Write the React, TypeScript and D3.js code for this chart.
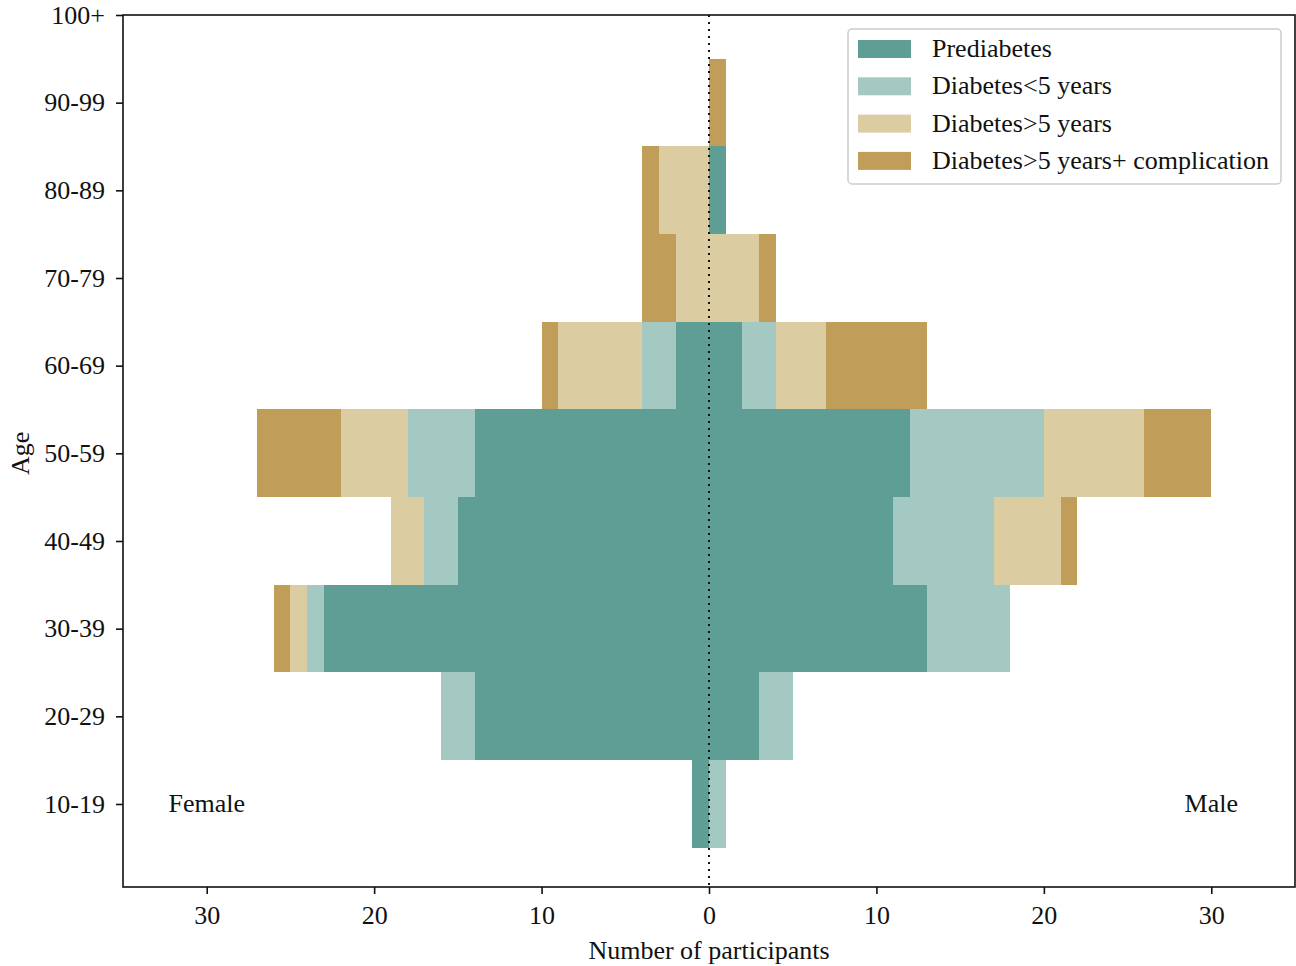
import { useEffect, useRef } from "react";
import * as d3 from "d3";

const ageGroups = ["10-19", "20-29", "30-39", "40-49", "50-59", "60-69", "70-79", "80-89", "90-99"];
const ageTicks = ["10-19", "20-29", "30-39", "40-49", "50-59", "60-69", "70-79", "80-89", "90-99", "100+"];
const series = ["Prediabetes", "Diabetes<5 years", "Diabetes>5 years", "Diabetes>5 years+ complication"];
const colors = ["#5e9e94", "#a4c9c2", "#dccca2", "#c19d5a"];

// counts per age group, one array per series
const femalePre = [1, 14, 23, 15, 14, 2, 0, 0, 0];
const femaleLt5 = [0, 2, 1, 2, 4, 2, 0, 0, 0];
const femaleGt5 = [0, 0, 1, 2, 4, 5, 2, 3, 0];
const femaleComp = [0, 0, 1, 0, 5, 1, 2, 1, 0];

const malePre = [0, 3, 13, 11, 12, 2, 0, 1, 0];
const maleLt5 = [1, 2, 5, 6, 8, 2, 0, 0, 0];
const maleGt5 = [0, 0, 0, 4, 6, 3, 3, 0, 0];
const maleComp = [0, 0, 0, 1, 4, 6, 1, 0, 1];

const xTicks = [-30, -20, -10, 0, 10, 20, 30];

export default function App() {
  const svgRef = useRef<SVGSVGElement | null>(null);

  useEffect(() => {
    if (!svgRef.current) return;
    const root = d3.select(svgRef.current);
    root.selectAll("*").remove();

    const W = 1296;
    const H = 966;
    const left = 123, right = 1295, top = 15, bottom = 887;
    const font = "'Liberation Serif', 'Times New Roman', serif";
    const fs = 26;

    const x = d3.scaleLinear().domain([-35, 35]).range([left, right]);
    const y = d3.scaleLinear().domain([-0.947, 9]).range([bottom, top]);

    const svg = root.attr("width", W).attr("height", H);
    svg.append("rect").attr("width", W).attr("height", H).attr("fill", "#fff");

    const sides = [
      { sign: -1, data: [femalePre, femaleLt5, femaleGt5, femaleComp] },
      { sign: 1, data: [malePre, maleLt5, maleGt5, maleComp] },
    ];

    const bars = svg.append("g").attr("shape-rendering", "crispEdges");
    sides.forEach(({ sign, data }) => {
      ageGroups.forEach((_, i) => {
        let acc = 0;
        data.forEach((arr, s) => {
          const v = arr[i];
          if (v > 0) {
            const a = x(sign * acc);
            const b = x(sign * (acc + v));
            bars
              .append("rect")
              .attr("x", Math.min(a, b))
              .attr("width", Math.abs(b - a))
              .attr("y", y(i + 0.5))
              .attr("height", y(i - 0.5) - y(i + 0.5))
              .attr("fill", colors[s]);
          }
          acc += v;
        });
      });
    });

    // dotted zero line
    svg
      .append("line")
      .attr("x1", x(0))
      .attr("x2", x(0))
      .attr("y1", top)
      .attr("y2", bottom)
      .attr("stroke", "#111")
      .attr("stroke-width", 2)
      .attr("stroke-dasharray", "2 5");

    // frame
    svg
      .append("rect")
      .attr("x", left)
      .attr("y", top)
      .attr("width", right - left)
      .attr("height", bottom - top)
      .attr("fill", "none")
      .attr("stroke", "#111")
      .attr("stroke-width", 1.6);

    const xAxis = svg
      .append("g")
      .attr("transform", `translate(0,${bottom})`)
      .call(
        d3
          .axisBottom(x)
          .tickValues(xTicks)
          .tickFormat((d) => String(Math.abs(+d)))
          .tickSize(7)
          .tickPadding(12)
      );
    xAxis.select(".domain").remove();

    const yAxis = svg
      .append("g")
      .attr("transform", `translate(${left},0)`)
      .call(
        d3
          .axisLeft(y)
          .tickValues(d3.range(ageTicks.length))
          .tickFormat((d) => ageTicks[+d])
          .tickSize(7)
          .tickPadding(11)
      );
    yAxis.select(".domain").remove();

    [xAxis, yAxis].forEach((g) => {
      g.selectAll("line").attr("stroke", "#111").attr("stroke-width", 1.6);
      g.selectAll("text")
        .attr("fill", "#111")
        .style("font-family", font)
        .style("font-size", `${fs}px`);
    });

    svg
      .append("text")
      .attr("x", x(0))
      .attr("y", 959)
      .attr("text-anchor", "middle")
      .style("font-family", font)
      .style("font-size", `${fs}px`)
      .attr("fill", "#111")
      .text("Number of participants");

    svg
      .append("text")
      .attr("transform", `translate(29,${y(4)}) rotate(-90)`)
      .attr("text-anchor", "middle")
      .style("font-family", font)
      .style("font-size", `${fs}px`)
      .attr("fill", "#111")
      .text("Age");

    svg
      .append("text")
      .attr("x", x(-30))
      .attr("y", y(0) + 8)
      .attr("text-anchor", "middle")
      .style("font-family", font)
      .style("font-size", `${fs}px`)
      .attr("fill", "#111")
      .text("Female");

    svg
      .append("text")
      .attr("x", x(30))
      .attr("y", y(0) + 8)
      .attr("text-anchor", "middle")
      .style("font-family", font)
      .style("font-size", `${fs}px`)
      .attr("fill", "#111")
      .text("Male");

    // legend
    const lg = svg.append("g").attr("transform", "translate(848,29)");
    lg.append("rect")
      .attr("width", 433)
      .attr("height", 155)
      .attr("rx", 4)
      .attr("fill", "#fff")
      .attr("fill-opacity", 0.8)
      .attr("stroke", "#ccc")
      .attr("stroke-width", 1.5);
    series.forEach((name, i) => {
      const cy = 20 + i * 37.3;
      lg.append("rect")
        .attr("x", 10)
        .attr("y", cy - 9)
        .attr("width", 53)
        .attr("height", 18)
        .attr("fill", colors[i]);
      lg.append("text")
        .attr("x", 84)
        .attr("y", cy + 8)
        .style("font-family", font)
        .style("font-size", `${fs}px`)
        .attr("fill", "#111")
        .text(name);
    });
  }, []);

  return <svg ref={svgRef} style={{ position: "absolute", left: 0, top: 0 }} />;
}
